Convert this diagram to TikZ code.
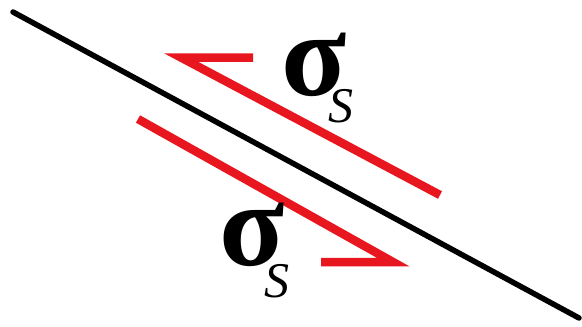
\documentclass[tikz,border=0pt]{standalone}
\usepackage{fontspec}
\setmainfont{Liberation Serif}
\definecolor{shearred}{RGB}{232,22,30}
\begin{document}
\begin{tikzpicture}[x=1pt,y=-1pt,
  plane/.style={line width=5.5pt,black,line cap=round},
  shear/.style={line width=8.5pt,shearred,line join=miter,miter limit=20,line cap=butt},
  sig/.style={inner sep=0pt,font=\fontsize{120}{120}\selectfont\bfseries},
  sub/.style={inner sep=0pt,font=\fontsize{50}{50}\selectfont\itshape}]
\useasboundingbox (0,0) rectangle (582,327);
\coordinate (p1) at (13,12);
\coordinate (p2) at (579,318);
\draw[plane] (p1) -- (p2);
% upper half-arrow
\coordinate (ub) at (253,57.5);
\coordinate (uv) at (181,57.5);
\coordinate (ue) at (440,195);
\draw[shear] (ub) -- (uv) -- (ue);
% lower half-arrow
\coordinate (ls) at (138,119);
\coordinate (lv) at (393,262);
\coordinate (lb) at (321,262);
\draw[shear] (ls) -- (lv) -- (lb);
% labels
\node[sig] (s1) at (314,64.5) {σ};
\node[sub] (t1) at (341,106) {S};
\node[sig] (s2) at (252,234.5) {σ};
\node[sub] (t2) at (277,281) {S};
\end{tikzpicture}
\end{document}
